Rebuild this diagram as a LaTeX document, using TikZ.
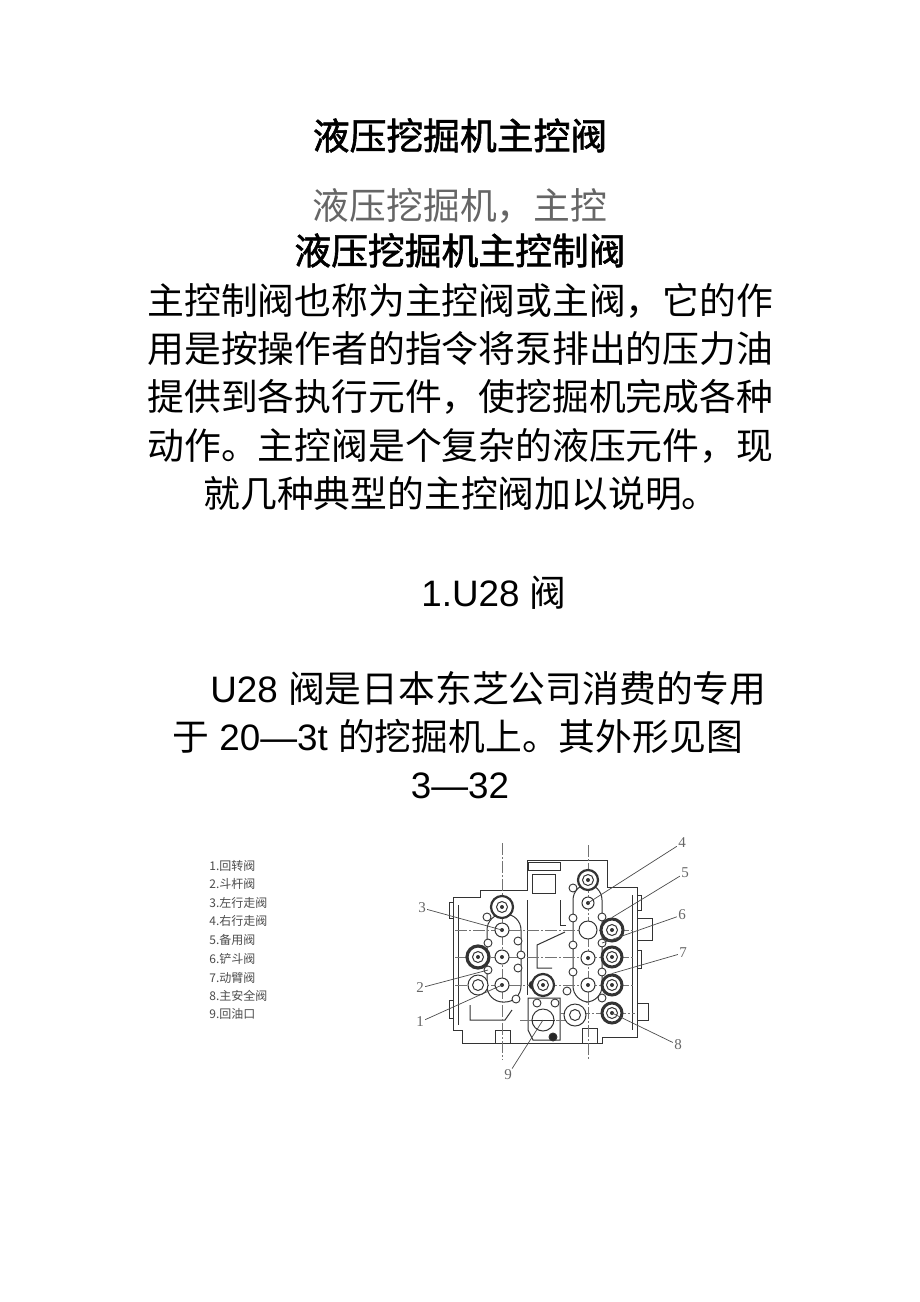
\documentclass[tikz,border=0pt]{standalone}
\usepackage{fontspec}
\setmainfont{Liberation Sans}
\newfontfamily\cjk{Noto Sans CJK SC}
\newfontfamily\cjkb[FakeBold=1.6]{Noto Sans CJK SC}
\newfontfamily\numfont{Liberation Serif}
\begin{document}
\begin{tikzpicture}[x=0.5pt,y=-0.5pt,
  head/.style={inner sep=0,anchor=base,font=\fontsize{18.4pt}{22pt}\cjkb},
  textline/.style={inner sep=0,anchor=base west,font=\fontsize{18.4pt}{22pt}\cjk},
  key/.style={inner sep=0,anchor=base west,font=\fontsize{6pt}{7pt}\cjk,text=black!70},
  num/.style={inner sep=0.5pt,font=\fontsize{7.5pt}{8pt}\numfont,text=black!60},
  lead/.style={draw=black!70,line width=0.35pt},
  spool/.style={circle,draw=black!80,line width=0.5pt,inner sep=0,fill=white},
  big/.style={spool,line width=1.1pt},
  bolt/.style={circle,draw=black!80,line width=0.45pt,inner sep=0,minimum size=4pt,fill=white},
  cline/.style={black!55,line width=0.3pt,dash pattern=on 6pt off 1pt on 1pt off 1pt},
  wall/.style={black!80,line width=0.5pt}]

  \useasboundingbox[fill=white] (0,0) rectangle (920,1302);

  % headings
  \node[head] (t1) at (460,149.5) {液压挖掘机主控阀};
  \node[head,font=\fontsize{18.4pt}{22pt}\cjk,text=black!60] (t2) at (460,219.5) {液压挖掘机，主控};
  \node[head] (t3) at (460,264.5) {液压挖掘机主控制阀};

  % paragraph
  \node[textline] (p1) at (147,314.5) {主控制阀也称为主控阀或主阀，它的作};
  \node[textline] (p2) at (147,362.5) {用是按操作者的指令将泵排出的压力油};
  \node[textline] (p3) at (147,410.5) {提供到各执行元件，使挖掘机完成各种};
  \node[textline] (p4) at (147,459.5) {动作。主控阀是个复杂的液压元件，现};
  \node[textline] (p5) at (203,507.5) {就几种典型的主控阀加以说明。};

  \node[textline] (s1) at (421,606) {{\rmfamily 1.U28 }阀};
  \node[textline] (q1) at (210,702) {{\rmfamily U28 }阀是日本东芝公司消费的专用};
  \node[textline] (q2) at (172,750) {于{\rmfamily\ 20—3t }的挖掘机上。其外形见图};
  \node[textline,anchor=base,font=\fontsize{18.4pt}{22pt}\rmfamily] (q3) at (460,798) {3—32};

  % legend
  \node[key] (k1) at (209,870) {1.回转阀};
  \node[key] (k2) at (209,888) {2.斗杆阀};
  \node[key] (k3) at (209,907) {3.左行走阀};
  \node[key] (k4) at (209,925) {4.右行走阀};
  \node[key] (k5) at (209,944) {5.备用阀};
  \node[key] (k6) at (209,963) {6.铲斗阀};
  \node[key] (k7) at (209,982) {7.动臂阀};
  \node[key] (k8) at (209,1000) {8.主安全阀};
  \node[key] (k9) at (209,1018) {9.回油口};

  % valve body
  \draw[wall] (453,897) -- (480,897) -- (480,890) -- (527,890) -- (527,860) -- (607,860)
    -- (607,887) -- (637,887) -- (637,1037) -- (602,1037) -- (602,1043) -- (462,1043)
    -- (462,1030) -- (453,1030) -- cycle;
  \draw[wall] (528,862) rectangle (560,870);
  \draw[wall] (532,874) rectangle (555,893);
  \draw[wall] (458,905) -- (458,1025);
  \draw[wall] (632,895) -- (632,1030);
  \draw[wall] (527,900) -- (527,995);
  \draw[wall] (565,932) -- (537,945) -- (537,968) -- (552,968);
  \draw[wall] (560,900) -- (560,925) -- (566,925);
  \draw[wall] (528,998) -- (560,998) -- (560,1040) -- (533,1040) -- (528,1030) -- cycle;
  \draw[wall] (495,1043) -- (495,1030) -- (510,1030) -- (510,1043);
  \draw[wall] (582,1043) -- (582,1028) -- (597,1028) -- (597,1043);
  \draw[wall] (637,918) rectangle (652,940);
  \draw[wall] (637,1003) rectangle (648,1020);
  \draw[wall] (449,902) rectangle (453,918);
  \draw[wall] (449,1000) rectangle (453,1018);
  \draw[wall] (637,895) rectangle (641,910);
  \draw[wall] (637,950) rectangle (641,968);
  \draw[wall,rounded corners=8] (487,914) rectangle (521,1002);
  \draw[wall,rounded corners=8] (573,884) rectangle (602,1002);
  \draw[wall] (470,1005) -- (470,1020) -- (505,1020) -- (512,1010);

  % centre lines
  \draw[cline] (502,843) -- (502,1060);
  \draw[cline] (588,845) -- (588,1060);
  \foreach \y in {930,957,985}
    \draw[cline] (455,\y) -- (635,\y);
  \draw[cline] (560,1013) -- (635,1013);
  \draw[cline] (520,1020) -- (566,1020);

  % bolts
  \foreach \p [count=\i] in {(487,917),(488,943),(488,970),(518,941),(521,955),(518,968),
      (516,999),(573,888),(573,918),(573,945),(573,972),(567,991),(602,917),(602,943),
      (602,972),(602,998),(537,1003),(555,1003)}
    \node[bolt] (b\i) at \p {};
  \node[bolt,fill=black!85] (b19) at (533,985) {};
  \node[bolt,fill=black!85] (b20) at (553,1037) {};

  % spools
  \node[big,minimum size=11pt] (vL0) at (502,907) {};
  \node[spool,minimum size=7pt] (vL1) at (502,930) {};
  \node[spool,minimum size=7pt] (vL2) at (502,957) {};
  \node[spool,minimum size=7pt] (vL3) at (502,985) {};
  \node[big,minimum size=11pt,line width=1.6pt] (vA) at (478,957) {};
  \node[spool,minimum size=10pt] (vB) at (478,985) {};
  \node[big,minimum size=11pt] (vM) at (543,985) {};
  \node[spool,minimum size=11pt] (vP) at (543,1020) {};
  \node[spool,minimum size=11pt] (vC) at (575,1015) {};
  \node[big,minimum size=10pt] (vR0) at (588,880) {};
  \node[spool,minimum size=6pt] (vR1) at (588,903) {};
  \node[spool,minimum size=9pt] (vR2) at (588,930) {};
  \node[spool,minimum size=7pt] (vR3) at (588,958) {};
  \node[spool,minimum size=7pt] (vR4) at (588,985) {};
  \node[big,minimum size=11pt,line width=1.5pt] (vF1) at (612,930) {};
  \node[big,minimum size=10pt,line width=1.5pt] (vF2) at (612,957) {};
  \node[big,minimum size=10pt,line width=1.5pt] (vF3) at (612,985) {};
  \node[big,minimum size=10pt,line width=1.5pt] (vF4) at (612,1013) {};
  \foreach \n in {vL0,vA,vB,vM,vC,vR0,vF1,vF2,vF3,vF4}
    \draw[wall] (\n.center) circle[radius=5.5];
  \foreach \n in {vL1,vL2,vL3,vR1,vR3,vR4,vL0,vA,vM,vR0,vF1,vF2,vF3,vF4}
    \fill[black!80] (\n.center) circle[radius=2];
  \draw[wall] (vP.west) -- (vP.east);

  % labels
  \node[num] (n1) at (420,1022) {1};
  \node[num] (n2) at (420,988) {2};
  \node[num] (n3) at (422,908) {3};
  \node[num] (n4) at (682,843) {4};
  \node[num] (n5) at (685,873) {5};
  \node[num] (n6) at (682,915) {6};
  \node[num] (n7) at (683,953) {7};
  \node[num] (n8) at (678,1045) {8};
  \node[num] (n9) at (508,1075) {9};

  \draw[lead] (n1) -- (vL3.center);
  \draw[lead] (n2) -- (b3.center);
  \draw[lead] (n3) -- (vL1.center);
  \draw[lead] (n4) -- (vR1.center);
  \draw[lead] (n5) -- (vF1.north);
  \draw[lead] (n6) -- (b14.center);
  \draw[lead] (n7) -- (vF3.north);
  \draw[lead] (n8) -- (vF4.center);
  \draw[lead] (n9) -- (vP.center);
\end{tikzpicture}
\end{document}
